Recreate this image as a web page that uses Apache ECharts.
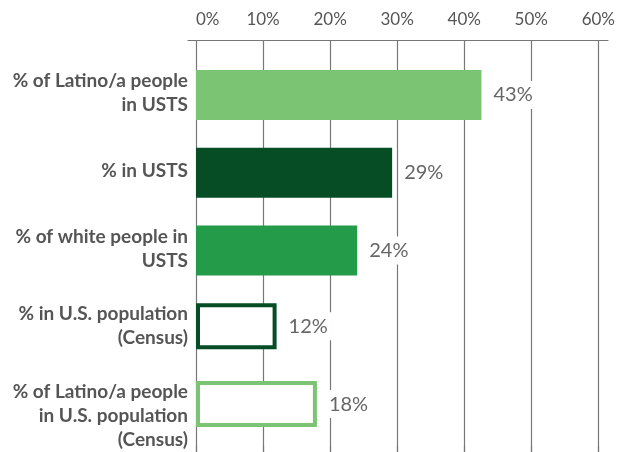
<!DOCTYPE html>
<html>
<head>
<meta charset="utf-8">
<script src="https://cdn.jsdelivr.net/npm/echarts@6/dist/echarts.min.js"></script>
<style>
  html, body { margin: 0; padding: 0; background: #fff; }
  #chart { width: 618px; height: 452px; }
</style>
</head>
<body>
<div id="chart"></div>
<script>
// categories, top to bottom
var categories = [
  '% of Latino/a people\nin USTS',
  '% in USTS',
  '% of white people in\nUSTS',
  '% in U.S. population\n(Census)',
  '% of Latino/a people\nin U.S. population\n(Census)'
];
// solid bars
var solidValues = [42.5, 29.2, 24, '-', '-'];
// outlined bars
var outlineValues = ['-', '-', '-', 12, 18];
var tickLabels = ['0%', '10%', '20%', '30%', '40%', '50%', '60%'];

var solidColors = ['#7bc473', '#064d26', '#249b49'];
var outlineColors = ['', '', '', '#064d26', '#7bc473'];

var font = 'Lato, "Open Sans", sans-serif';

var chart = echarts.init(document.getElementById('chart'));

var valueLabel = {
  show: true,
  position: 'right',
  distance: 8,
  fontFamily: font,
  fontSize: 20,
  color: '#666',
  backgroundColor: '#fff',
  padding: [4, 4],
  formatter: function (p) { return Math.round(p.value) + '%'; }
};

var option = {
  animation: false,
  grid: [
    // bars
    { left: 196, right: 19, top: 54, height: 390 },
    // gridlines + ticks
    { left: 196, right: 19, top: 40, bottom: 0 },
    // axis line (wider than the scale)
    { left: 188, right: 10, top: 40, bottom: 0 }
  ],
  xAxis: [
    { gridIndex: 0, type: 'value', min: 0, max: 60, show: false },
    {
      gridIndex: 1, type: 'value', position: 'top', min: 0, max: 60, interval: 10,
      axisLine: { show: false },
      axisTick: { show: true, length: 6, lineStyle: { color: '#777', width: 1.2 } },
      axisLabel: {
        fontFamily: font, fontSize: 17, color: '#555', margin: 12,
        alignMinLabel: 'left',
        formatter: function (v) { return tickLabels[v / 10]; }
      },
      splitLine: { show: true, lineStyle: { color: '#777', width: 1.2 } }
    },
    {
      gridIndex: 2, type: 'value', position: 'top', min: 0, max: 1,
      axisLine: { show: true, onZero: false, lineStyle: { color: '#777', width: 1.2 } },
      axisTick: { show: false }, axisLabel: { show: false }, splitLine: { show: false }
    }
  ],
  yAxis: [
    {
      gridIndex: 0, type: 'category', inverse: true,
      data: categories,
      axisLine: { show: false }, axisTick: { show: false },
      axisLabel: {
        fontFamily: font, fontSize: 19, fontWeight: 'bold', color: '#555',
        lineHeight: 24, margin: 8, align: 'right',
        // last label sits lower than centred in the reference
        formatter: function (v, i) { return i === 4 ? '\n' + v : v; }
      }
    },
    { gridIndex: 1, type: 'value', show: false },
    { gridIndex: 2, type: 'value', show: false }
  ],
  series: [
    {
      type: 'bar', xAxisIndex: 0, yAxisIndex: 0,
      barWidth: 50, barGap: '-100%', z: 3,
      data: solidValues.map(function (v, i) {
        return { value: v, itemStyle: { color: solidColors[i] } };
      }),
      label: valueLabel
    },
    {
      type: 'bar', xAxisIndex: 0, yAxisIndex: 0,
      barWidth: 46, barGap: '-100%', z: 3,
      data: outlineValues.map(function (v, i) {
        return { value: v, itemStyle: { color: '#fff', borderColor: outlineColors[i], borderWidth: 4 } };
      }),
      label: valueLabel
    }
  ]
};

chart.setOption(option);
</script>
</body>
</html>
